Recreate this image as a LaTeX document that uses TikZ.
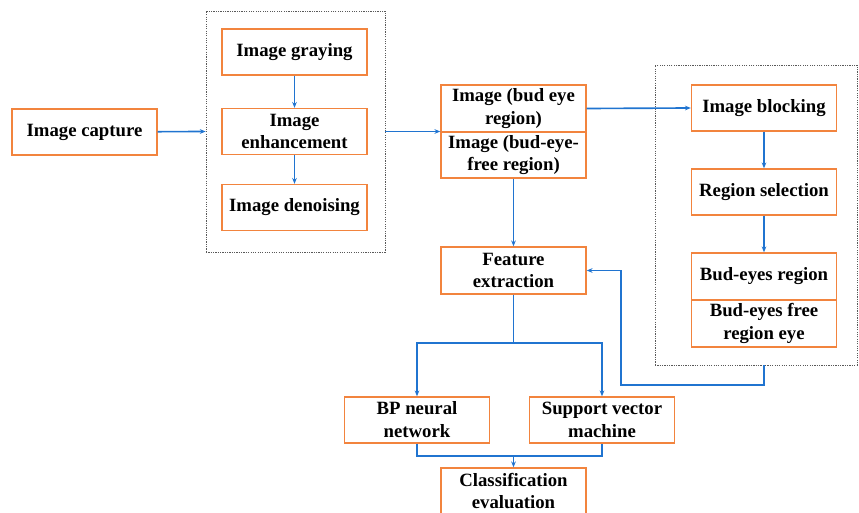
\documentclass[tikz,border=0pt]{standalone}
\usepackage{fontspec}
\setmainfont{Liberation Serif}
\usetikzlibrary{arrows.meta,positioning}
\definecolor{boxorange}{RGB}{242,132,62}
\definecolor{flowblue}{RGB}{32,116,208}
\tikzset{
  stepbox/.style={draw=boxorange, line width=1.2pt, minimum width=4.35cm, minimum height=1.38cm,
    align=center, inner sep=1pt, font=\bfseries\fontsize{16}{19.5}\selectfont},
  flow/.style={draw=flowblue, line width=1.4pt},
  flowarrow/.style={flow, -{Stealth[length=5pt,width=4pt]}},
  groupbox/.style={draw=gray!70!black, dash pattern=on 1pt off 1pt, line width=0.6pt}
}

\begin{document}
\begin{tikzpicture}[x=0.03cm, y=-0.03cm]
  \useasboundingbox (0,0) rectangle (859,513);

  % preprocessing
  \node[stepbox] (capture) at (84.5,132) {Image capture};
  \node[groupbox, minimum width=5.37cm, minimum height=7.23cm] (prep) at (295.5,131.5) {};
  \node[stepbox] (graying) at (294.5,52) {Image graying};
  \node[stepbox] (enhance) at (294.5,131.5) {Image\\enhancement};
  \node[stepbox] (denoise) at (294.5,207.5) {Image denoising};

  % segmentation
  \node[stepbox, minimum height=1.41cm] (budimg) at (513.5,108.5) {Image (bud eye\\region)};
  \node[stepbox] (freeimg) at (513.5,155) {Image (bud-eye-\\free region)};
  \node[groupbox, minimum width=6.06cm, minimum height=9cm] (detect) at (756,215) {};
  \node[stepbox] (blocking) at (764,108) {Image blocking};
  \node[stepbox] (selection) at (764,192) {Region selection};
  \node[stepbox, minimum height=1.41cm] (budreg) at (764,276.5) {Bud-eyes region};
  \node[stepbox, minimum height=1.41cm] (freereg) at (764,323.5) {Bud-eyes free\\region eye};

  % classification
  \node[stepbox, minimum height=1.41cm] (feature) at (513.5,270.5) {Feature\\extraction};
  \node[stepbox] (bpnet) at (417,420) {BP neural\\network};
  \node[stepbox] (svm) at (602,420) {Support vector\\machine};
  \node[stepbox] (classify) at (513.5,491) {Classification\\evaluation};

  \coordinate (loopcorner) at (621,385);
  \coordinate (split) at (513.5,343);
  \coordinate (merge) at (513.5,456);

  \draw[flowarrow] (capture) -- (prep.west);
  \draw[flowarrow] (graying) -- (enhance);
  \draw[flowarrow] (enhance) -- (denoise);
  \draw[flowarrow] (prep.east) -- (prep.east -| budimg.west);
  \draw[flowarrow] (budimg.east) -- (blocking.west);
  \draw[flowarrow] (blocking) -- (selection);
  \draw[flowarrow] (selection) -- (budreg);
  \draw[flowarrow] (detect.south -| freereg.south) |- (loopcorner) |- (feature.east);
  \draw[flowarrow] (freeimg) -- (feature);
  \draw[flow] (feature) -- (split);
  \draw[flowarrow] (split) -| (bpnet.north);
  \draw[flowarrow] (split) -| (svm.north);
  \draw[flow] (bpnet.south) |- (merge) -| (svm.south);
  \draw[flowarrow] (merge) -- (classify);
\end{tikzpicture}
\end{document}
